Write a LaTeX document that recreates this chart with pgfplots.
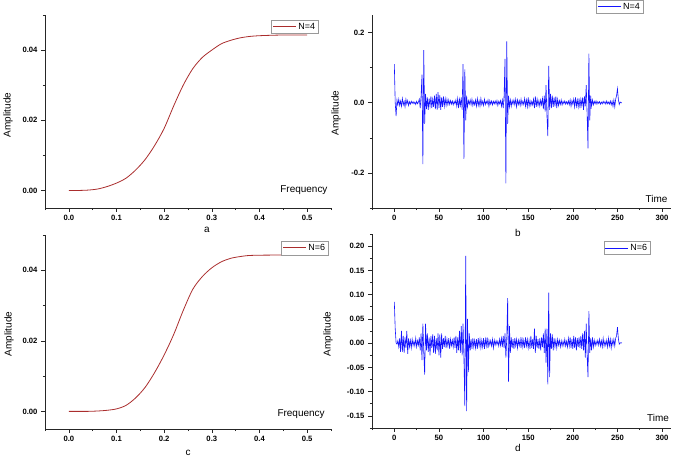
\documentclass[border=0pt]{standalone}
\usepackage{pgfplots}
\pgfplotsset{compat=1.18}
\usepackage{pgfplotstable}
\usepackage{fontspec}
\setmainfont{Liberation Sans}

\definecolor{curvered}{RGB}{170,45,45}
\definecolor{sigblue}{RGB}{20,20,255}

\pgfplotstableread[row sep=\\]{
y\\
0.110\\ 0.000\\ -0.038\\ 0.008\\ -0.006\\ 0.010\\ -0.008\\ 0.005\\ -0.010\\ 0.012\\ -0.006\\ 0.004\\ -0.012\\ 0.010\\ -0.004\\ 0.006\\
-0.008\\ 0.003\\ -0.004\\ 0.004\\ -0.002\\ 0.003\\ -0.003\\ 0.002\\ -0.005\\ 0.004\\ -0.003\\ 0.002\\ 0.010\\ -0.015\\ 0.020\\ 0.080\\
-0.175\\ 0.150\\ -0.060\\ 0.025\\ -0.018\\ 0.015\\ -0.020\\ 0.012\\ -0.010\\ 0.018\\ -0.015\\ 0.010\\ -0.012\\ 0.020\\ -0.018\\ 0.025\\
-0.020\\ 0.030\\ -0.015\\ 0.022\\ -0.020\\ 0.015\\ -0.012\\ 0.018\\ -0.010\\ 0.012\\ -0.008\\ 0.010\\ -0.006\\ 0.008\\ -0.005\\ 0.006\\
-0.004\\ 0.005\\ -0.006\\ 0.004\\ -0.003\\ 0.008\\ -0.010\\ 0.012\\ -0.015\\ 0.010\\ -0.008\\ 0.015\\ -0.020\\ 0.110\\ -0.160\\ 0.095\\
-0.050\\ 0.020\\ -0.012\\ 0.006\\ -0.004\\ 0.008\\ -0.006\\ 0.010\\ -0.008\\ 0.004\\ -0.006\\ 0.008\\ -0.010\\ 0.012\\ -0.008\\ 0.006\\
-0.010\\ 0.012\\ -0.006\\ 0.004\\ -0.008\\ 0.010\\ -0.005\\ 0.004\\ -0.003\\ 0.008\\ -0.010\\ 0.006\\ -0.004\\ 0.005\\ -0.006\\ 0.004\\
-0.003\\ 0.005\\ -0.004\\ 0.006\\ -0.008\\ 0.004\\ -0.003\\ 0.006\\ -0.010\\ 0.008\\ -0.015\\ 0.020\\ 0.125\\ -0.230\\ 0.175\\ -0.060\\
0.020\\ -0.012\\ 0.008\\ -0.010\\ 0.006\\ -0.004\\ 0.008\\ -0.006\\ 0.010\\ -0.012\\ 0.008\\ -0.005\\ 0.006\\ -0.008\\ 0.010\\ -0.006\\
0.004\\ -0.005\\ 0.012\\ -0.010\\ 0.008\\ -0.012\\ 0.015\\ -0.010\\ 0.006\\ -0.008\\ 0.004\\ -0.006\\ 0.010\\ -0.015\\ 0.018\\ -0.012\\
0.010\\ -0.008\\ 0.006\\ -0.010\\ 0.008\\ -0.006\\ 0.012\\ -0.018\\ 0.020\\ -0.025\\ 0.050\\ -0.035\\ -0.095\\ 0.105\\ -0.020\\ 0.025\\
-0.015\\ 0.020\\ -0.012\\ 0.015\\ -0.010\\ 0.018\\ -0.015\\ 0.010\\ -0.008\\ 0.006\\ -0.005\\ 0.008\\ -0.006\\ 0.004\\ -0.003\\ 0.005\\
-0.004\\ 0.003\\ -0.004\\ 0.005\\ -0.006\\ 0.008\\ -0.010\\ 0.006\\ -0.004\\ 0.010\\ -0.012\\ 0.015\\ -0.010\\ 0.008\\ -0.012\\ 0.012\\
-0.015\\ 0.010\\ -0.008\\ 0.015\\ -0.020\\ 0.018\\ -0.010\\ 0.050\\ -0.030\\ -0.130\\ 0.140\\ -0.050\\ 0.020\\ -0.010\\ 0.008\\ -0.006\\
0.004\\ -0.003\\ 0.005\\ -0.004\\ 0.003\\ -0.002\\ 0.003\\ -0.004\\ 0.002\\ -0.003\\ 0.004\\ -0.002\\ 0.003\\ -0.004\\ 0.005\\ -0.003\\
0.002\\ -0.004\\ 0.005\\ -0.006\\ 0.004\\ -0.010\\ 0.008\\ -0.012\\ 0.010\\ 0.020\\ 0.040\\ 0.010\\ -0.005\\ 0.002\\ 0.000\\ 0.000\\
}\dataB

\pgfplotstableread[row sep=\\]{
y\\
0.085\\ 0.030\\ 0.000\\ -0.002\\ 0.005\\ -0.008\\ 0.010\\ -0.018\\ 0.025\\ -0.018\\ 0.015\\ -0.020\\ 0.012\\ -0.010\\ 0.025\\ -0.022\\
0.010\\ -0.008\\ 0.006\\ -0.010\\ 0.008\\ -0.005\\ 0.004\\ -0.006\\ 0.010\\ -0.008\\ 0.005\\ -0.004\\ 0.012\\ -0.015\\ 0.020\\ -0.035\\
0.040\\ -0.020\\ -0.065\\ 0.040\\ -0.015\\ 0.020\\ -0.018\\ 0.012\\ -0.025\\ 0.015\\ -0.010\\ 0.018\\ -0.020\\ 0.015\\ -0.022\\ 0.010\\
-0.015\\ 0.020\\ -0.025\\ 0.018\\ -0.030\\ 0.020\\ -0.012\\ 0.010\\ -0.008\\ 0.015\\ -0.010\\ 0.008\\ -0.006\\ 0.010\\ -0.012\\ 0.008\\
-0.005\\ 0.006\\ -0.008\\ 0.012\\ -0.010\\ 0.015\\ -0.020\\ 0.012\\ -0.015\\ 0.025\\ -0.020\\ 0.035\\ -0.025\\ 0.040\\ -0.030\\ -0.130\\
0.180\\ -0.140\\ 0.050\\ -0.060\\ 0.020\\ -0.015\\ 0.008\\ -0.012\\ 0.010\\ -0.008\\ 0.006\\ -0.010\\ 0.008\\ -0.012\\ 0.010\\ -0.006\\
0.008\\ -0.010\\ 0.006\\ -0.008\\ 0.010\\ -0.012\\ 0.008\\ -0.006\\ 0.012\\ -0.010\\ 0.006\\ -0.004\\ 0.005\\ -0.006\\ 0.008\\ -0.010\\
0.006\\ -0.004\\ 0.005\\ -0.003\\ 0.004\\ -0.006\\ 0.008\\ -0.005\\ 0.010\\ -0.008\\ 0.015\\ -0.010\\ 0.020\\ -0.030\\ 0.010\\ 0.093\\
-0.080\\ 0.035\\ -0.020\\ 0.012\\ -0.010\\ 0.008\\ -0.012\\ 0.010\\ -0.006\\ 0.008\\ -0.010\\ 0.006\\ -0.005\\ 0.008\\ -0.010\\ 0.012\\
-0.008\\ 0.006\\ -0.010\\ 0.012\\ -0.006\\ 0.008\\ -0.010\\ 0.006\\ -0.012\\ 0.015\\ -0.010\\ 0.008\\ -0.012\\ 0.030\\ -0.020\\ 0.015\\
-0.010\\ 0.008\\ -0.012\\ 0.010\\ -0.015\\ 0.012\\ -0.008\\ 0.020\\ -0.020\\ 0.030\\ -0.040\\ 0.030\\ -0.085\\ 0.104\\ -0.070\\ 0.020\\
-0.012\\ 0.018\\ -0.015\\ 0.010\\ -0.008\\ 0.006\\ -0.010\\ 0.008\\ -0.004\\ 0.006\\ -0.008\\ 0.005\\ -0.006\\ 0.004\\ -0.005\\ 0.008\\
-0.006\\ 0.004\\ -0.008\\ 0.010\\ -0.006\\ 0.012\\ -0.010\\ 0.008\\ -0.012\\ 0.015\\ -0.010\\ 0.012\\ -0.015\\ 0.010\\ -0.008\\ 0.012\\
-0.010\\ 0.015\\ -0.012\\ 0.020\\ -0.015\\ 0.025\\ -0.030\\ 0.040\\ -0.025\\ -0.070\\ 0.066\\ -0.020\\ 0.010\\ -0.015\\ 0.012\\ -0.008\\
0.006\\ -0.005\\ 0.004\\ -0.003\\ 0.006\\ -0.004\\ 0.008\\ -0.006\\ 0.005\\ -0.008\\ 0.010\\ -0.006\\ 0.004\\ -0.005\\ 0.006\\ -0.008\\
0.010\\ -0.006\\ 0.008\\ -0.010\\ 0.006\\ -0.004\\ 0.008\\ -0.006\\ 0.010\\ 0.015\\ 0.033\\ 0.010\\ -0.002\\ 0.000\\ 0.001\\ 0.000\\
}\dataD

\pgfplotsset{
  panel/.style={
    scale only axis,
    axis lines=left,
    axis line style={-, line width=0.8bp, black!85},
    tick align=outside,
    major tick length=4bp,
    minor tick length=2.2bp,
    every tick/.style={black!85, line width=0.6bp},
    tick label style={font=\fontsize{7.7}{8}\selectfont\bfseries},
    /pgf/number format/assume math mode=true,
    label style={font=\fontsize{10}{11}\selectfont},
    scaled ticks=false,
    clip=false,
    ylabel={Amplitude},
    legend cell align=left,
    legend image code/.code={\draw[#1] (0bp,0bp) -- (23bp,0bp);},
    legend style={draw=black!40, line width=0.5bp, inner sep=1bp, outer sep=0pt,
      font=\fontsize{9}{10}\selectfont, row sep=0pt},
  },
  freq/.style={
    width=286bp,
    xmin=-0.05, xmax=0.55, ymin=-0.005, ymax=0.05,
    xtick={0,0.1,0.2,0.3,0.4,0.5},
    minor xtick={-0.05,0.05,0.15,0.25,0.35,0.45,0.55},
    ytick={0,0.02,0.04},
    minor ytick={0.01,0.03,0.05},
    xticklabel style={/pgf/number format/.cd, fixed, fixed zerofill, precision=1},
    yticklabel style={/pgf/number format/.cd, fixed, fixed zerofill, precision=2},
    xlabel={Frequency},
  },
  timeax/.style={
    width=299bp,
    xmin=-25, xmax=310,
    xtick={0,50,100,150,200,250,300},
    minor xtick={-25,25,75,125,175,225,275},
    xlabel={Time},
  },
}

\begin{document}
\begin{tikzpicture}
\useasboundingbox (0,0) rectangle (675bp,457bp);

% (a)
\begin{axis}[panel, freq, height=193bp,
  at={(45bp,249bp)}, anchor=south west,
  xlabel style={at={(rel axis cs:1,0.078)}, anchor=base east},
  ylabel style={at={(rel axis cs:-0.129,0.482)}, anchor=center},
  legend style={at={(rel axis cs:0.955,0.974)}, anchor=north east}]
\addplot[curvered, line width=0.8bp, smooth] coordinates {
(0.00,0.0000) (0.02,0.0000) (0.04,0.0001) (0.06,0.0004) (0.08,0.0011)
(0.10,0.0021) (0.12,0.0035) (0.14,0.0058) (0.16,0.0088) (0.18,0.0128)
(0.20,0.0177) (0.22,0.0241) (0.24,0.0300) (0.26,0.0347) (0.28,0.0379)
(0.30,0.0400) (0.32,0.0418) (0.34,0.0428) (0.36,0.0435) (0.38,0.0439)
(0.40,0.0441) (0.42,0.0442) (0.45,0.0443) (0.50,0.0443)};
\addlegendentry{N=4}
\node[font=\fontsize{10}{11}\selectfont] at (rel axis cs:0.566,-0.114) {a};
\end{axis}

% (b)
\begin{axis}[panel, timeax, height=193bp,
  at={(372bp,249bp)}, anchor=south west,
  ymin=-0.3, ymax=0.25,
  ytick={-0.2,0,0.2},
  minor ytick={-0.3,-0.1,0.1},
  yticklabel style={/pgf/number format/.cd, fixed, fixed zerofill, precision=1},
  xlabel style={at={(rel axis cs:1,0.031)}, anchor=base east},
  ylabel style={at={(rel axis cs:-0.120,0.492)}, anchor=center},
  legend style={at={(rel axis cs:0.906,1.078)}, anchor=north east}]
\addplot[sigblue, line width=0.6bp] table[x expr=\coordindex, y=y] {\dataB};
\addlegendentry{N=4}
\node[font=\fontsize{10}{11}\selectfont] at (rel axis cs:0.488,-0.13) {b};
\end{axis}

% (c)
\begin{axis}[panel, freq, height=194bp,
  at={(45bp,28bp)}, anchor=south west,
  xlabel style={at={(rel axis cs:0.99,0.067)}, anchor=base east},
  ylabel style={at={(rel axis cs:-0.126,0.49)}, anchor=center},
  legend style={at={(rel axis cs:0.99,0.969)}, anchor=north east}]
\addplot[curvered, line width=0.8bp, smooth] coordinates {
(0.00,0.0000) (0.02,0.0000) (0.04,0.0000) (0.06,0.0001) (0.08,0.0003)
(0.10,0.0007) (0.12,0.0017) (0.14,0.0038) (0.16,0.0068) (0.18,0.0110)
(0.20,0.0160) (0.22,0.0218) (0.24,0.0286) (0.26,0.0346) (0.28,0.0382)
(0.30,0.0407) (0.32,0.0424) (0.34,0.0434) (0.36,0.0439) (0.38,0.0442)
(0.42,0.0443) (0.50,0.0443)};
\addlegendentry{N=6}
\node[font=\fontsize{10}{11}\selectfont] at (rel axis cs:0.5,-0.124) {c};
\end{axis}

% (d)
\begin{axis}[panel, timeax, height=194bp,
  at={(372bp,29bp)}, anchor=south west,
  ymin=-0.175, ymax=0.225,
  ytick={-0.15,-0.1,-0.05,0,0.05,0.1,0.15,0.2},
  minor ytick={-0.175,-0.125,-0.075,-0.025,0.025,0.075,0.125,0.175,0.225},
  yticklabel style={/pgf/number format/.cd, fixed, fixed zerofill, precision=2},
  xlabel style={at={(rel axis cs:1.005,0.036)}, anchor=base east},
  ylabel style={at={(rel axis cs:-0.147,0.485)}, anchor=center},
  legend style={at={(rel axis cs:0.93,0.964)}, anchor=north east}]
\addplot[sigblue, line width=0.6bp] table[x expr=\coordindex, y=y] {\dataD};
\addlegendentry{N=6}
\node[font=\fontsize{10}{11}\selectfont] at (rel axis cs:0.488,-0.103) {d};
\end{axis}
\end{tikzpicture}
\end{document}
